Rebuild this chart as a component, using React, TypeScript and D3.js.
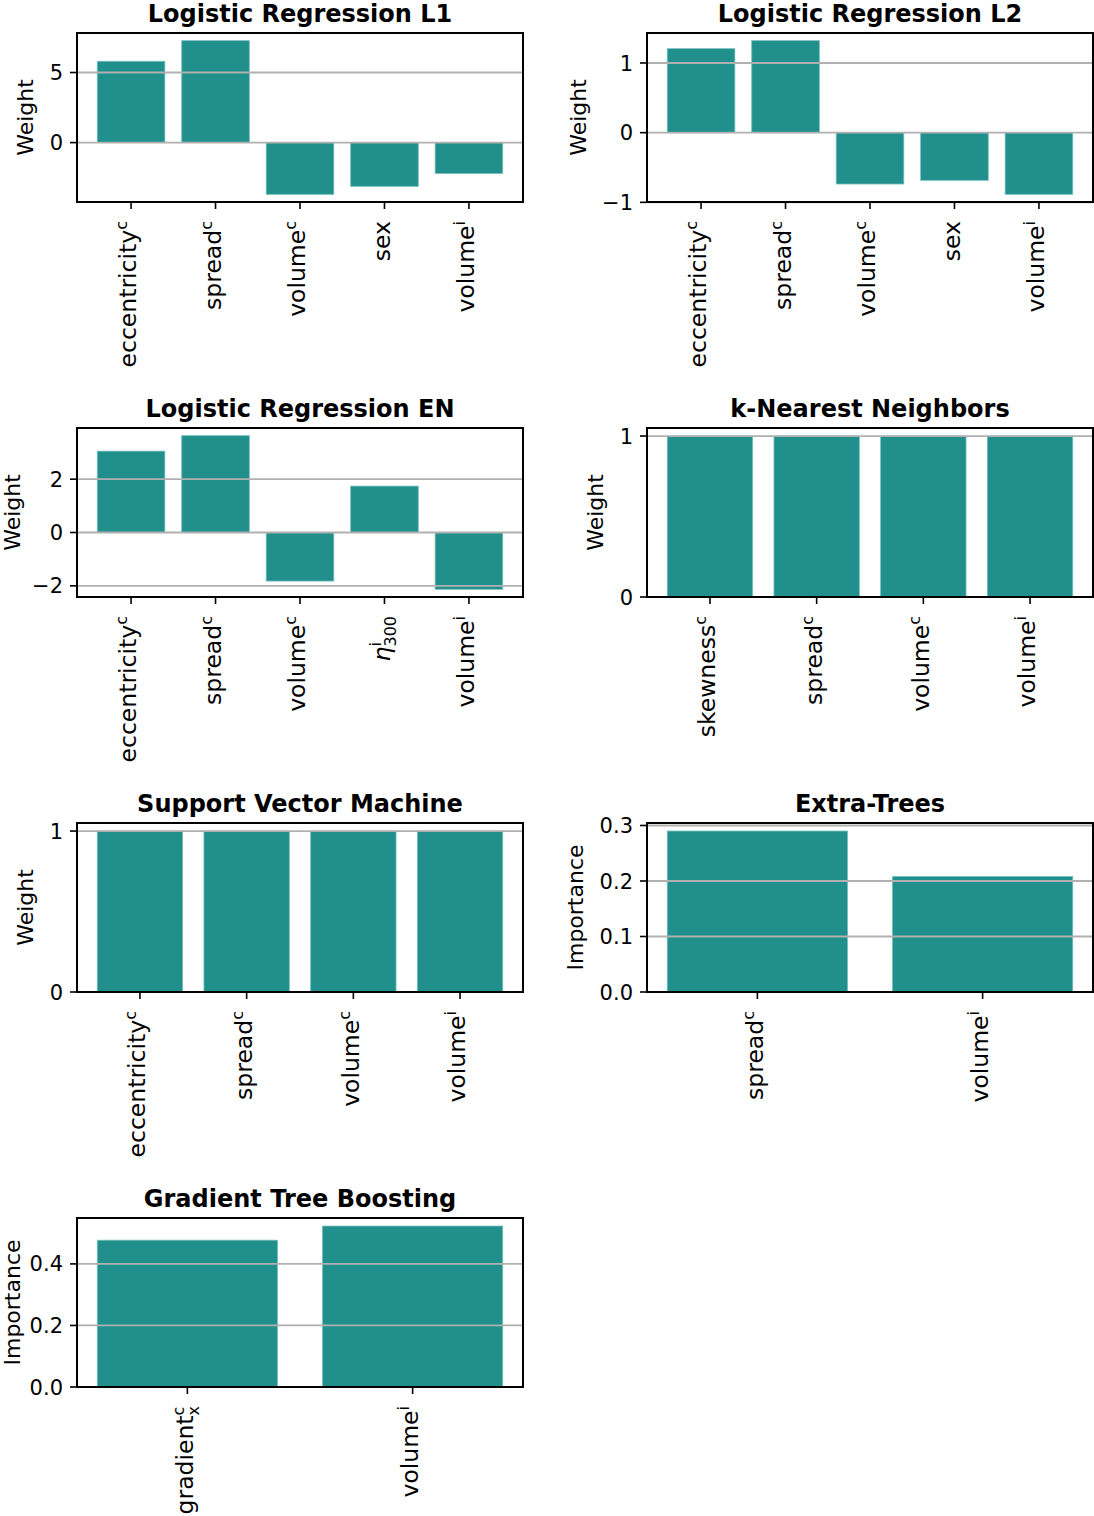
import * as d3 from "d3";

// feature labels use a tiny markup: base_sub^sup
const l1Features = ["eccentricity^c", "spread^c", "volume^c", "sex", "volume^i"];
const l1Weights = [5.8, 7.27, -3.69, -3.12, -2.2];
const l1Ticks = [0, 5];

const l2Features = ["eccentricity^c", "spread^c", "volume^c", "sex", "volume^i"];
const l2Weights = [1.205, 1.32, -0.737, -0.684, -0.885];
const l2Ticks = [-1, 0, 1];

const enFeatures = ["eccentricity^c", "spread^c", "volume^c", "η_300^i", "volume^i"];
const enWeights = [3.05, 3.63, -1.82, 1.74, -2.13];
const enTicks = [-2, 0, 2];

const knnFeatures = ["skewness^c", "spread^c", "volume^c", "volume^i"];
const knnWeights = [1, 1, 1, 1];
const knnTicks = [0, 1];

const svmFeatures = ["eccentricity^c", "spread^c", "volume^c", "volume^i"];
const svmWeights = [1, 1, 1, 1];
const svmTicks = [0, 1];

const etFeatures = ["spread^c", "volume^i"];
const etImportances = [0.29, 0.208];
const etTicks = [0, 0.1, 0.2, 0.3];

const gtbFeatures = ["gradient_x^c", "volume^i"];
const gtbImportances = [0.477, 0.523];
const gtbTicks = [0, 0.2, 0.4];

type Panel = {
  title: string;
  ylabel: string;
  features: string[];
  values: number[];
  ticks: number[];
  decimals: number;
};

const panels: Panel[] = [
  { title: "Logistic Regression L1", ylabel: "Weight", features: l1Features, values: l1Weights, ticks: l1Ticks, decimals: 0 },
  { title: "Logistic Regression L2", ylabel: "Weight", features: l2Features, values: l2Weights, ticks: l2Ticks, decimals: 0 },
  { title: "Logistic Regression EN", ylabel: "Weight", features: enFeatures, values: enWeights, ticks: enTicks, decimals: 0 },
  { title: "k-Nearest Neighbors", ylabel: "Weight", features: knnFeatures, values: knnWeights, ticks: knnTicks, decimals: 0 },
  { title: "Support Vector Machine", ylabel: "Weight", features: svmFeatures, values: svmWeights, ticks: svmTicks, decimals: 0 },
  { title: "Extra-Trees", ylabel: "Importance", features: etFeatures, values: etImportances, ticks: etTicks, decimals: 1 },
  { title: "Gradient Tree Boosting", ylabel: "Importance", features: gtbFeatures, values: gtbImportances, ticks: gtbTicks, decimals: 1 },
];

const WIDTH = 1094;
const HEIGHT = 1516;
const COL_X = [77, 647];
const ROW_Y0 = 33;
const ROW_STEP = 395;
const PLOT_W = 446;
const PLOT_H = 169;
const BAR_COLOR = "#21908d";
const GRID_COLOR = "#b0b0b0";
const FONT = "DejaVu Sans";
const TICK_FS = 21;
const XTICK_FS = 23.5;
const SCRIPT_FS = 16;
const LABEL_FS = 22;
const TITLE_FS = 24;

// rough DejaVu Sans advance widths (em)
const CHAR_W: Record<string, number> = {
  "0": 0.636, "1": 0.636, "2": 0.636, "3": 0.636, "4": 0.636, "5": 0.636,
  ".": 0.318, "−": 0.838, i: 0.278, c: 0.55, x: 0.592,
};
const textWidth = (s: string, size: number) =>
  s.split("").reduce((acc, ch) => acc + (CHAR_W[ch] ?? 0.6), 0) * size;

const fmtTick = (v: number, decimals: number) =>
  d3.format(decimals ? ".1f" : "d")(v).replace("-", "−");

const parseLabel = (s: string) => {
  const m = s.match(/^([^_^]+)(?:_([^_^]+))?(?:\^([^_^]+))?$/);
  return { base: m?.[1] ?? s, sub: m?.[2], sup: m?.[3] };
};

const XLabel = ({ x, y, label }: { x: number; y: number; label: string }) => {
  const { base, sub, sup } = parseLabel(label);
  const supW = sup ? textWidth(sup, SCRIPT_FS) : 0;
  return (
    <text
      transform={`translate(${x},${y}) rotate(-90)`}
      textAnchor="end"
      dy="0.22em"
      fontSize={XTICK_FS}
    >
      <tspan fontStyle={base === "η" ? "italic" : undefined}>{base}</tspan>
      {sup && (
        <tspan fontSize={SCRIPT_FS} dy={-9}>
          {sup}
        </tspan>
      )}
      {sub && (
        <tspan fontSize={SCRIPT_FS} dx={sup ? -supW : 0} dy={sup ? 15 : 6}>
          {sub}
        </tspan>
      )}
    </text>
  );
};

const BarPanel = ({ panel, index }: { panel: Panel; index: number }) => {
  const left = COL_X[index % 2];
  const top = ROW_Y0 + ROW_STEP * Math.floor(index / 2);
  const right = left + PLOT_W;
  const bottom = top + PLOT_H;
  const n = panel.values.length;

  // matplotlib-style limits: 5% margins, sticky at zero for all-positive bars
  const xSpan = n - 1 + 0.8;
  const xScale = d3
    .scaleLinear()
    .domain([-0.4 - 0.05 * xSpan, n - 1 + 0.4 + 0.05 * xSpan])
    .range([left, right]);

  const lo = Math.min(0, d3.min(panel.values) ?? 0);
  const hi = Math.max(0, d3.max(panel.values) ?? 0);
  const span = hi - lo;
  const yDomain = lo >= 0 ? [0, hi + 0.05 * span] : [lo - 0.05 * span, hi + 0.05 * span];
  const yScale = d3.scaleLinear().domain(yDomain).range([bottom, top]);

  const tickLabels = panel.ticks.map((t) => fmtTick(t, panel.decimals));
  const maxTickW = d3.max(tickLabels, (s) => textWidth(s, TICK_FS)) ?? 0;
  // keep the rotated label inside the page on the left column
  const ylabelX = Math.max(left - 14 - maxTickW - 16.3, 19.5);

  return (
    <g fontFamily={FONT}>
      {panel.values.map((v, i) => {
        const x0 = xScale(i - 0.4);
        const x1 = xScale(i + 0.4);
        const y0 = yScale(Math.max(0, v));
        const y1 = yScale(Math.min(0, v));
        return (
          <rect
            key={i}
            x={x0}
            y={y0}
            width={x1 - x0}
            height={y1 - y0}
            fill={BAR_COLOR}
            stroke="#6fbdb9"
            strokeWidth={0.8}
          />
        );
      })}
      {panel.ticks.map((t) => (
        <line
          key={`g${t}`}
          x1={left}
          x2={right}
          y1={yScale(t)}
          y2={yScale(t)}
          stroke={GRID_COLOR}
          strokeWidth={1.8}
        />
      ))}
      <rect x={left} y={top} width={PLOT_W} height={PLOT_H} fill="none" stroke="#000" strokeWidth={2} />
      {panel.ticks.map((t, i) => (
        <g key={`y${t}`}>
          <line x1={left - 7} x2={left} y1={yScale(t)} y2={yScale(t)} stroke="#000" strokeWidth={1.6} />
          <text x={left - 14} y={yScale(t)} dy="0.36em" textAnchor="end" fontSize={TICK_FS}>
            {tickLabels[i]}
          </text>
        </g>
      ))}
      {panel.features.map((f, i) => (
        <g key={`x${i}`}>
          <line x1={xScale(i)} x2={xScale(i)} y1={bottom} y2={bottom + 7} stroke="#000" strokeWidth={1.6} />
          <XLabel x={xScale(i)} y={bottom + 19} label={f} />
        </g>
      ))}
      <text
        transform={`translate(${ylabelX},${(top + bottom) / 2}) rotate(-90)`}
        textAnchor="middle"
        fontSize={LABEL_FS}
      >
        {panel.ylabel}
      </text>
      <text x={(left + right) / 2} y={top - 11} textAnchor="middle" fontSize={TITLE_FS} fontWeight="bold">
        {panel.title}
      </text>
    </g>
  );
};

export default function App() {
  return (
    <svg
      width={WIDTH}
      height={HEIGHT}
      style={{ position: "absolute", left: 0, top: 0, background: "#fff" }}
    >
      {panels.map((p, i) => (
        <BarPanel key={p.title} panel={p} index={i} />
      ))}
    </svg>
  );
}
